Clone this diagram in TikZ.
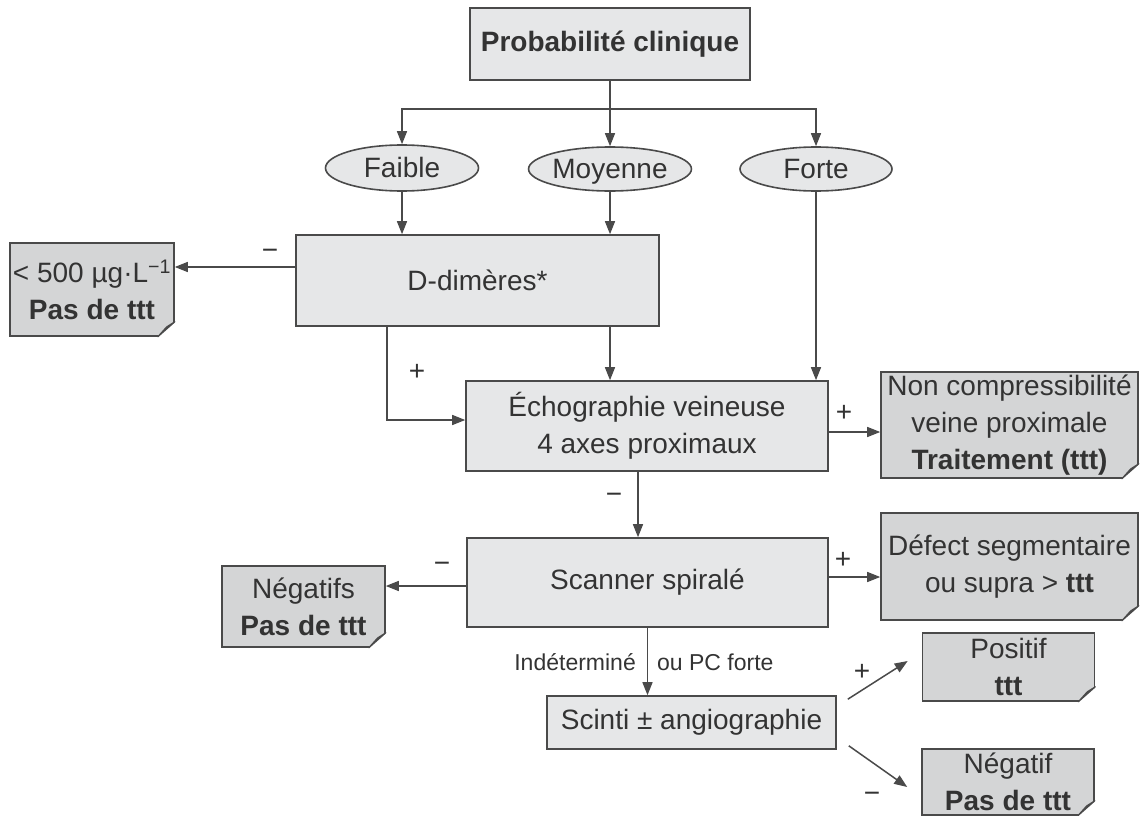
\documentclass[tikz,border=0pt]{standalone}
\usepackage{fontspec}
\setmainfont{Liberation Sans}
\usetikzlibrary{arrows.meta,shapes.geometric}

\definecolor{fondclair}{HTML}{E6E7E8}
\definecolor{fondnote}{HTML}{D4D5D6}
\definecolor{trait}{HTML}{4A4A4A}
\definecolor{texte}{HTML}{333333}

% coin replie des notes
\newcommand{\pli}[1]{%
  \fill[white] ([xshift=-17pt]#1.south east) -- ([xshift=1.5pt,yshift=-1.5pt]#1.south east) -- ([yshift=15pt]#1.south east) -- cycle;
  \filldraw[fill=gray!75, draw=trait, line width=1.2pt, line join=round] ([xshift=-17pt]#1.south east) -- ([xshift=-8pt,yshift=10pt]#1.south east) -- ([yshift=15pt]#1.south east) -- cycle;
}

\begin{document}
\begin{tikzpicture}[x=1pt, y=-1pt,
  font=\fontsize{28}{37}\selectfont, text=texte,
  boite/.style={draw=trait, fill=fondclair, line width=1.6pt, inner sep=0pt, align=center},
  note/.style={draw=trait, fill=fondnote, line width=1.6pt, inner sep=0pt, align=center},
  ovale/.style={ellipse, draw=trait, fill=fondclair, line width=1.6pt, inner sep=0pt, text height=20pt, text depth=1pt},
  fleche/.style={draw=trait, line width=1.5pt, -{Triangle[length=13pt,width=10pt]}},
  signe/.style={inner sep=0pt},
  petit/.style={font=\fontsize{23}{27}\selectfont, inner sep=0pt}]

    \useasboundingbox (0,0) rectangle (1141,816);

    \node[boite, minimum width=280pt, minimum height=72pt] (proba) at (610,44) {\bfseries Probabilité clinique};

    \node[ovale, minimum width=153pt, minimum height=46pt] (faible) at (402,168) {Faible};
    \node[ovale, minimum width=152pt, minimum height=44pt] (moyenne) at (610,169) {Moyenne};
    \node[ovale, minimum width=152pt, minimum height=44pt] (forte) at (816,169) {Forte};

    \node[boite, minimum width=363pt, minimum height=91pt] (ddim) at (477.5,280.5) {D-dimères*};
    \node[note, minimum width=164pt, minimum height=93pt] (seuil) at (92,289.5) {< 500 µg·L\textsuperscript{−1}\\\textbf{Pas de ttt}};

    \node[boite, minimum width=362pt, minimum height=90pt] (echo) at (647,426) {Échographie veineuse\\4 axes proximaux};
    \node[note, minimum width=257pt, minimum height=106pt] (noncomp) at (1009.5,425) {Non compressibilité\\veine proximale\\\textbf{Traitement (ttt)}};

    \node[boite, minimum width=361pt, minimum height=89pt] (scanner) at (647.5,582.5) {Scanner spiralé};
    \node[note, minimum width=163pt, minimum height=81pt] (negatifs) at (303.5,606.5) {Négatifs\\\textbf{Pas de ttt}};
    \node[note, minimum width=257pt, minimum height=107pt] (defect) at (1009.5,566.5) {Défect segmentaire\\ou supra > \textbf{ttt}};

    \node[boite, minimum width=289pt, minimum height=53pt] (scinti) at (691.5,722.5) {Scinti ± angiographie};
    \node[note, minimum width=172pt, minimum height=68pt] (positif) at (1008.5,667) {Positif\\\textbf{ttt}};
    \node[note, minimum width=172pt, minimum height=66pt] (negatif) at (1008,782) {Négatif\\\textbf{Pas de ttt}};

    \pli{seuil}
    \pli{noncomp}
    \pli{negatifs}
    \pli{defect}
    \pli{positif}
    \pli{negatif}

    % Dessiner les fleches
    \draw[fleche] (proba) -- (moyenne);
    \draw[fleche] (proba.south) -- ++(0,28) -| (faible.north);
    \draw[fleche] (proba.south) -- ++(0,28) -| (forte.north);

    \draw[fleche] (faible) -- (faible |- ddim.north);
    \draw[fleche] (moyenne) -- (moyenne |- ddim.north);
    \draw[fleche] (forte) -- (forte |- echo.north);

    \draw[fleche] ([yshift=13.5pt]ddim.west) -- ([yshift=13.5pt]ddim.west -| seuil.east);
    \draw[fleche] (ddim.south -| moyenne) -- (echo.north -| moyenne);
    \draw[fleche] ([xshift=92pt]ddim.south west) |- ([yshift=6pt]echo.west);

    \draw[fleche] ([yshift=-6pt]echo.east) -- ([yshift=-6pt]echo.east -| noncomp.west);
    \draw[fleche] ([xshift=-9pt]echo.south) -- ([xshift=-9pt]echo.south |- scanner.north);

    \draw[fleche] ([yshift=-3.5pt]scanner.west) -- ([yshift=-3.5pt]scanner.west -| negatifs.east);
    \draw[fleche] ([yshift=5.5pt]scanner.east) -- ([yshift=5.5pt]scanner.east -| defect.west);
    \draw[fleche] (scanner.south) -- (scanner.south |- scinti.north);

    \draw[fleche] ([xshift=11pt,yshift=-4pt]scinti.north east) -- ([xshift=-14pt,yshift=6pt]positif.west);
    \draw[fleche] ([xshift=12pt,yshift=4pt]scinti.south east) -- ([xshift=-14pt,yshift=-5pt]negatif.west);

    % signes
    \node[signe] (moins1) at (270,254) {−};
    \node[signe] (plus1) at (417,372) {+};
    \node[signe] (plus2) at (844,413) {+};
    \node[signe] (moins2) at (614,498) {−};
    \node[signe] (moins3) at (442,567) {−};
    \node[signe] (plus3) at (843,560) {+};
    \node[signe] (plus4) at (862,672) {+};
    \node[signe] (moins4) at (872,797) {−};

    \node[petit, anchor=east] (indet) at (636,662) {Indéterminé};
    \node[petit, anchor=west] (pcforte) at (657,662) {ou PC forte};

\end{tikzpicture}
\end{document}
